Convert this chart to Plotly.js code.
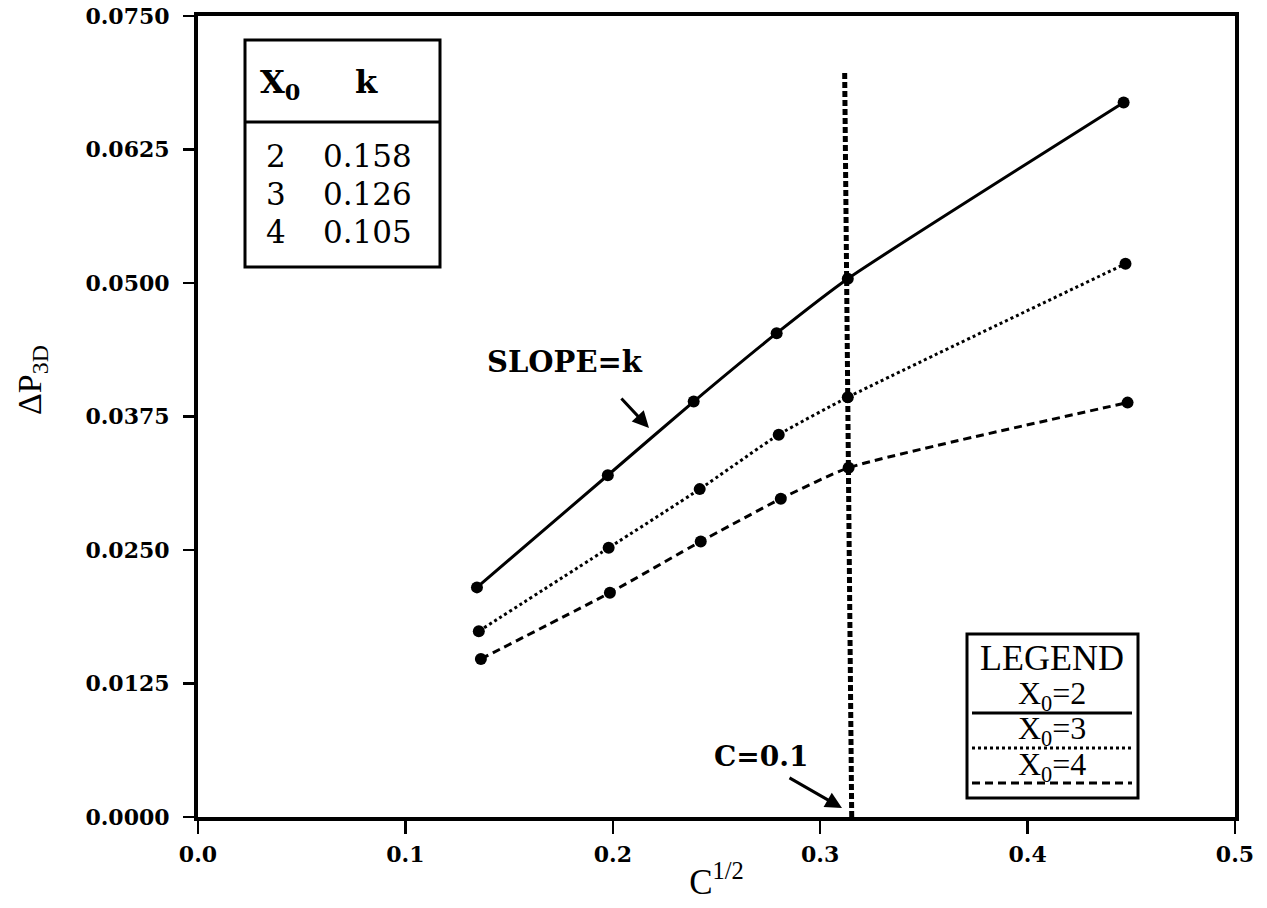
<!DOCTYPE html>
<html><head><meta charset="utf-8">
<script src="https://cdn.plot.ly/plotly-3.0.1.min.js"></script>
<style>html,body{margin:0;padding:0;background:#fff}#chart{width:1267px;height:908px}</style>
</head><body><div id="chart"></div>
<script>
// ---- data ----
const sqrtC_X0_2 = [0.1345, 0.1976, 0.2390, 0.2790, 0.3133, 0.4463];
const dP_X0_2    = [0.0215, 0.0320, 0.0389, 0.0453, 0.0504, 0.0669];
const sqrtC_X0_3 = [0.1354, 0.1980, 0.2419, 0.2800, 0.3133, 0.4472];
const dP_X0_3    = [0.0174, 0.0252, 0.0307, 0.0358, 0.0393, 0.0518];
const sqrtC_X0_4 = [0.1364, 0.1986, 0.2424, 0.2810, 0.3137, 0.4482];
const dP_X0_4    = [0.0148, 0.0210, 0.0258, 0.0298, 0.0327, 0.0388];
const cLineX = [0.3152, 0.3118];
const cLineY = [0.0000, 0.0698];
const tableX0 = ['2', '3', '4'];
const tableK  = ['0.158', '0.126', '0.105'];
const legendLabels = ['X<sub>0</sub>=2', 'X<sub>0</sub>=3', 'X<sub>0</sub>=4'];
const xTickVals = [0.0, 0.1, 0.2, 0.3, 0.4, 0.5];
const yTickVals = [0.0000, 0.0125, 0.0250, 0.0375, 0.0500, 0.0625, 0.0750];

// ---- layout helpers (pixel -> paper) ----
const L = 198, R = 1235, T = 16, B = 817;
const px = x => (x - L) / (R - L);
const py = y => (B - y) / (B - T);

const serif = 'DejaVu Serif';
const times = 'Liberation Serif';
const dashes = ['solid', 'dot', '8px,5px'];
const series = [[sqrtC_X0_2, dP_X0_2], [sqrtC_X0_3, dP_X0_3], [sqrtC_X0_4, dP_X0_4]];

const traces = series.map((s, i) => ({
  x: s[0], y: s[1], type: 'scatter', mode: 'lines+markers',
  line: {color: '#000', width: 3, dash: dashes[i], shape: 'spline', smoothing: 0.5},
  marker: {color: '#000', size: 12},
  showlegend: false, hoverinfo: 'x+y'
}));
traces.push({
  x: cLineX, y: cLineY, type: 'scatter', mode: 'lines',
  line: {color: '#000', width: 5, dash: '6px,3px'}, showlegend: false
});

const shapes = [
  {type: 'rect', xref: 'paper', yref: 'paper', x0: px(245), x1: px(440), y0: py(267), y1: py(40), line: {color: '#000', width: 3}},
  {type: 'line', xref: 'paper', yref: 'paper', x0: px(245), x1: px(440), y0: py(122), y1: py(122), line: {color: '#000', width: 3}},
  {type: 'rect', xref: 'paper', yref: 'paper', x0: px(967), x1: px(1138), y0: py(798), y1: py(634), line: {color: '#000', width: 3}}
];
const legLineY = [713, 748, 783];
legLineY.forEach((yy, i) => shapes.push({
  type: 'line', xref: 'paper', yref: 'paper', x0: px(972), x1: px(1132), y0: py(yy), y1: py(yy),
  line: {color: '#000', width: 3, dash: dashes[i]}
}));

const ann = [];
const txt = (x, y, text, size, family, weight, angle) => ann.push({
  xref: 'paper', yref: 'paper', x: px(x), y: py(y), text: text, showarrow: false,
  xanchor: 'center', yanchor: 'middle', textangle: angle || 0,
  font: {family: family, size: size, color: '#000', weight: weight || 'normal'}
});
// table
txt(280, 84, 'X<sub>0</sub>', 32, serif, 'bold');
txt(366, 82, 'k', 32, serif, 'bold');
const rowY = [156, 194, 232];
tableX0.forEach((v, i) => txt(276, rowY[i], v, 31, serif));
tableK.forEach((v, i) => txt(367, rowY[i], v, 31, serif));
// legend box
txt(1052, 658, 'LEGEND', 36, times);
const legTxtY = [695, 730, 766];
legendLabels.forEach((v, i) => txt(1052, legTxtY[i], v, 32, times));
// notes with arrows
txt(565, 362, 'SLOPE=k', 29, serif, 'bold');
txt(761, 756, 'C=0.1', 28, serif, 'bold');
// y-axis title
txt(32, 380, '\u0394P<sub>3D</sub>', 34, times, 'normal', -90);
const arrow = (hx, hy, tx, ty) => ann.push({
  xref: 'paper', yref: 'paper', x: px(hx), y: py(hy), ax: tx - hx, ay: ty - hy,
  axref: 'pixel', ayref: 'pixel', text: '', showarrow: true,
  arrowhead: 2, arrowsize: 1.1, arrowwidth: 3, arrowcolor: '#000'
});
arrow(649, 428, 620, 397);
arrow(842, 808, 788, 777);

const tickFont = {family: serif, size: 22, color: '#000', weight: 'bold'};
const layout = {
  width: 1267, height: 908,
  margin: {l: L, r: 1267 - R, t: T, b: 908 - B},
  paper_bgcolor: '#fff', plot_bgcolor: '#fff',
  xaxis: {
    range: [0, 0.5], tickvals: xTickVals, tickformat: '.1f',
    ticks: 'outside', ticklen: 13, tickwidth: 2.5, tickcolor: '#000',
    showline: true, linewidth: 4, linecolor: '#000', mirror: true,
    showgrid: false, zeroline: false, tickfont: tickFont, ticklabelstandoff: 2,
    title: {text: 'C<sup>1/2</sup>', font: {family: times, size: 35, color: '#000'}, standoff: 4},
    automargin: false
  },
  yaxis: {
    range: [0, 0.075], tickvals: yTickVals, tickformat: '.4f',
    ticks: 'outside', ticklen: 11, tickwidth: 2.5, tickcolor: '#000',
    showline: true, linewidth: 4, linecolor: '#000', mirror: true,
    showgrid: false, zeroline: false, tickfont: tickFont, ticklabelstandoff: 9,
    automargin: false
  },
  shapes: shapes, annotations: ann
};
Plotly.newPlot('chart', traces, layout, {displayModeBar: false, staticPlot: true});
</script>
</body></html>
